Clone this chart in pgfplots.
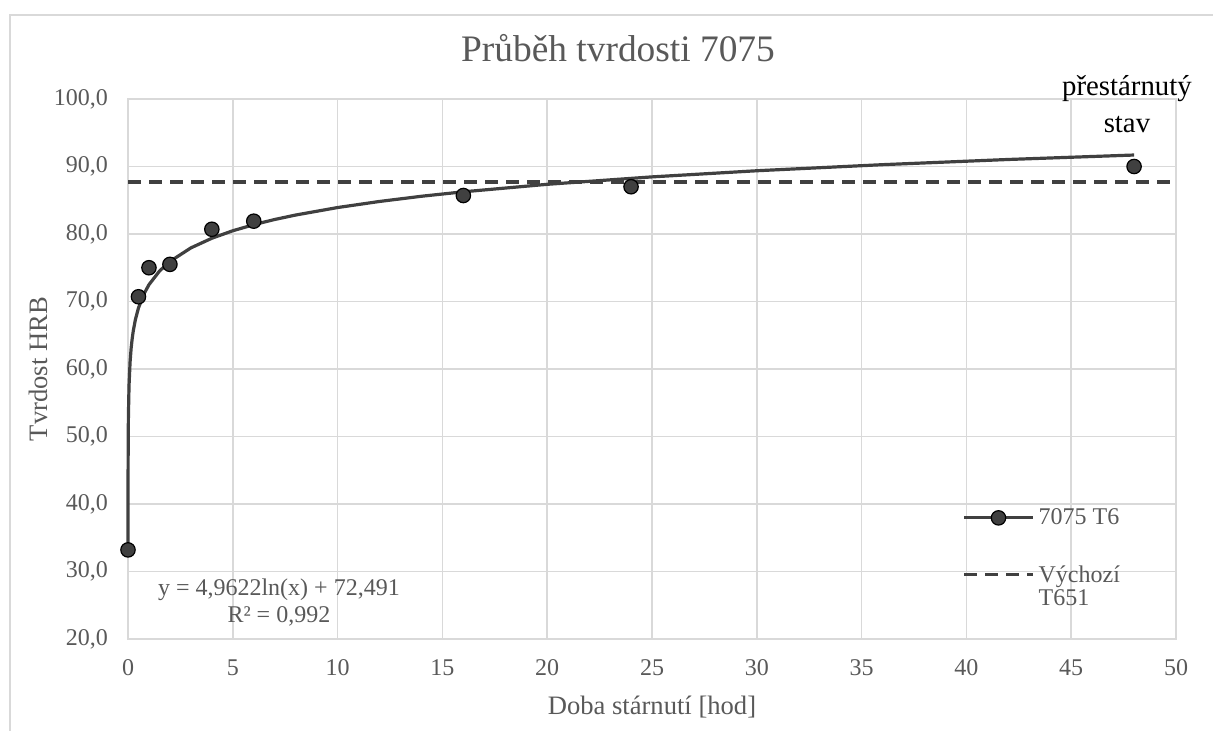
\documentclass[border=0pt]{standalone}
\usepackage{pgfplots}
\pgfplotsset{compat=1.18}
\usepackage{fontspec}
\setmainfont{Liberation Serif}
\definecolor{txt}{HTML}{595959}
\definecolor{grd}{HTML}{D9D9D9}
\definecolor{ln}{HTML}{404040}
\begin{document}
\begin{tikzpicture}
\useasboundingbox (0pt,0pt) rectangle (606.5pt,365.5pt);
\draw[grd, line width=0.75pt] (5pt,0pt) -- (5pt,358pt) -- (606.5pt,358pt);
\begin{axis}[
 at={(64pt,46pt)}, anchor=south west,
 scale only axis, width=524pt, height=270pt,
 xmin=0, xmax=50, ymin=20, ymax=100,
 xtick={0,5,...,50}, ytick={20,30,...,100},
 grid=major, grid style={grd, line width=0.75pt},
 axis line style={grd, line width=0.75pt},
 major tick length=0pt,
 clip=false,
 /pgf/number format/assume math mode=true,
 tick label style={font=\fontsize{12}{14}\selectfont, text=txt},
 yticklabel style={anchor=east, xshift=-6.5pt, /pgf/number format/.cd, fixed, fixed zerofill, precision=1, use comma, assume math mode=true},
 xticklabel style={anchor=center, yshift=-14.5pt},
 title={Průběh tvrdosti 7075},
 title style={at={(axis description cs:0.4676,1.072)}, anchor=center, font=\fontsize{18.7}{22}\selectfont, text=txt},
 xlabel={Doba stárnutí [hod]},
 xlabel style={at={(axis description cs:0.5,-0.126)}, anchor=center, font=\fontsize{13.3}{16}\selectfont, text=txt},
 ylabel={Tvrdost HRB},
 ylabel style={at={(axis description cs:-0.0859,0.5)}, anchor=center, font=\fontsize{13.3}{16}\selectfont, text=txt},
 legend style={draw=none, fill=none, inner sep=0pt, at={(axis description cs:0.7958,0.25)}, anchor=north west, font=\fontsize{12}{13.5}\selectfont, text=txt, row sep=14pt},
 legend cell align=left,
 legend image code/.code={\draw[mark repeat=2,mark phase=2] plot coordinates {(0pt,0pt)(17.25pt,0pt)(34.5pt,0pt)};},
]
\addlegendimage{ln, line width=1.6pt, mark=*, mark size=3.6pt, mark options={fill=ln, draw=black, line width=0.6pt, solid}}
\addlegendentry{7075 T6}
\addlegendimage{ln, line width=1.6pt, dash pattern=on 6.5pt off 4pt}
\addlegendentry{\begin{tabular}[t]{@{}l@{}}Výchozí\\[-2pt]T651\end{tabular}}

\addplot[ln, line width=1.6pt, dash pattern=on 6.5pt off 4pt, forget plot] coordinates {(0,87.7) (50,87.7)};

\addplot[ln, line width=1.6pt, line join=round, forget plot] coordinates {
(0.0004,33.67) (0.001,38.21) (0.003,43.66) (0.01,49.64) (0.02,53.08) (0.05,57.62)
(0.1,61.06) (0.15,63.08) (0.2,64.50) (0.25,65.61) (0.35,67.28) (0.5,69.05) (0.75,71.06)
(1,72.49) (1.5,74.50) (2,75.93) (3,77.94) (4,79.37) (5,80.48) (6,81.38) (7,82.15)
(8,82.81) (10,83.92) (12,84.82) (14,85.59) (16,86.25) (20,87.36) (25,88.46)
(30,89.37) (36,90.27) (42,91.04) (48,91.70)
};

\addplot[only marks, mark=*, mark size=3.6pt, mark options={fill=ln, draw=black, line width=0.6pt}, forget plot] coordinates {
(0,33.2) (0.5,70.7) (1,75.0) (2,75.5) (4,80.7) (6,81.9) (16,85.7) (24,87.0) (48,90.0)
};

\node[font=\fontsize{14.4}{18.5}\selectfont, align=center, text=black] at (axis cs:47.66,99.2) {přestárnutý\\stav};
\node[font=\fontsize{12}{13.5}\selectfont, align=center, text=txt] at (axis cs:7.2,25.33) {y = 4,9622ln(x) + 72,491\\R² = 0,992};
\end{axis}
\end{tikzpicture}
\end{document}
